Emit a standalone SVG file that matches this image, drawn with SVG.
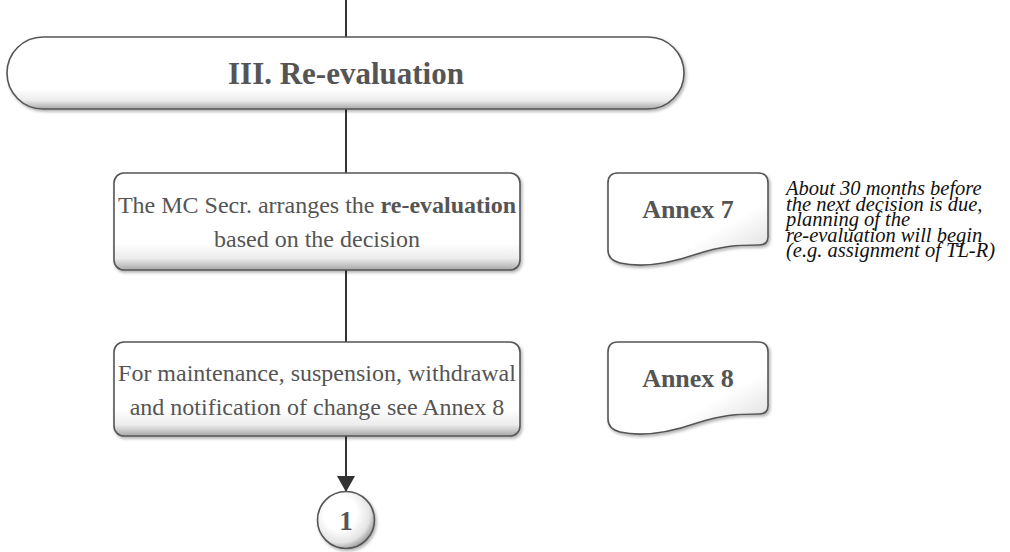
<svg xmlns="http://www.w3.org/2000/svg" width="1010" height="552" viewBox="0 0 1010 552">
<defs>
<style>
.t{font-family:"Liberation Serif",Tinos,"Times New Roman",Times,"DejaVu Serif",serif;fill:#555;}
.b{font-weight:bold;}
.it{font-family:"Liberation Serif",Tinos,"Times New Roman",Times,"DejaVu Serif",serif;font-style:italic;fill:#111;font-size:20.5px;}
.shape{stroke:#555;stroke-width:1.6;filter:url(#sh);}
.conn{stroke:#333;stroke-width:2;fill:none;}
</style>
<linearGradient id="gV" x1="0" y1="0" x2="0" y2="1">
<stop offset="0" stop-color="#ffffff"/>
<stop offset="0.72" stop-color="#ffffff"/>
<stop offset="0.88" stop-color="#ececec"/>
<stop offset="1" stop-color="#a8a8a8"/>
</linearGradient>
<linearGradient id="gDoc" x1="0" y1="0" x2="1" y2="1">
<stop offset="0" stop-color="#ffffff"/>
<stop offset="0.65" stop-color="#ffffff"/>
<stop offset="0.85" stop-color="#e8e8e8"/>
<stop offset="1" stop-color="#a0a0a0"/>
</linearGradient>
<radialGradient id="gC" cx="0.4" cy="0.38" r="0.65">
<stop offset="0.45" stop-color="#ffffff"/>
<stop offset="0.8" stop-color="#e4e4e4"/>
<stop offset="1" stop-color="#9a9a9a"/>
</radialGradient>
<filter id="sh" x="-5%" y="-10%" width="115%" height="135%">
<feDropShadow dx="1.5" dy="2" stdDeviation="1.5" flood-color="#000" flood-opacity="0.3"/>
</filter>
<marker id="arr" viewBox="0 0 16 18" refX="16" refY="9" markerWidth="16" markerHeight="18" markerUnits="userSpaceOnUse" orient="auto">
<path d="M0,0 L16,9 L0,18 Z" fill="#333"/>
</marker>
</defs>

<g id="connectors">
<line class="conn" x1="346" y1="0" x2="346" y2="37"/>
<line class="conn" x1="346" y1="109" x2="346" y2="173"/>
<line class="conn" x1="346" y1="270" x2="346" y2="342"/>
<line class="conn" x1="346" y1="436" x2="346" y2="492" marker-end="url(#arr)"/>
</g>

<g id="phase3">
<rect class="shape" x="7" y="37" width="677" height="72" rx="36" ry="36" fill="url(#gV)"/>
<text class="t b" x="346" y="84" font-size="31" text-anchor="middle">III. Re-evaluation</text>
</g>

<g id="step1">
<rect class="shape" x="114" y="173" width="406" height="97" rx="10" ry="10" fill="url(#gV)"/>
<text class="t" x="317" y="213" font-size="24" text-anchor="middle">The MC Secr. arranges the <tspan class="b">re-evaluation</tspan></text>
<text class="t" x="317" y="247" font-size="24" text-anchor="middle">based on the decision</text>
</g>

<g id="annex7">
<path class="shape" fill="url(#gDoc)" d="M608,183 Q608,173 618,173 H758 Q768,173 768,183 V237 Q768,245 759,245 C736,245 722,246 697,254 C668,264 642,268 620,263 Q608,260 608,250 Z"/>
<text class="t b" x="688" y="218" font-size="26" text-anchor="middle">Annex 7</text>
</g>

<g id="note">
<text class="it" x="786" y="195"><tspan x="786" y="195">About 30 months before</tspan><tspan x="786" y="210.5">the next decision is due,</tspan><tspan x="786" y="226">planning of the</tspan><tspan x="786" y="241.5">re-evaluation will begin</tspan><tspan x="786" y="257">(e.g. assignment of TL-R)</tspan></text>
</g>

<g id="step2">
<rect class="shape" x="114" y="342" width="406" height="94" rx="10" ry="10" fill="url(#gV)"/>
<text class="t" x="317" y="381" font-size="24" text-anchor="middle">For maintenance, suspension, withdrawal</text>
<text class="t" x="317" y="415" font-size="24" text-anchor="middle">and notification of change see Annex 8</text>
</g>

<g id="annex8">
<path class="shape" fill="url(#gDoc)" d="M608,352 Q608,342 618,342 H758 Q768,342 768,352 V406 Q768,414 759,414 C736,414 722,415 697,423 C668,433 642,437 620,432 Q608,429 608,419 Z"/>
<text class="t b" x="688" y="387" font-size="26" text-anchor="middle">Annex 8</text>
</g>

<g id="connector1">
<circle class="shape" cx="346" cy="520" r="28.5" fill="url(#gC)"/>
<text class="t b" x="346" y="530" font-size="27" text-anchor="middle">1</text>
</g>
</svg>
